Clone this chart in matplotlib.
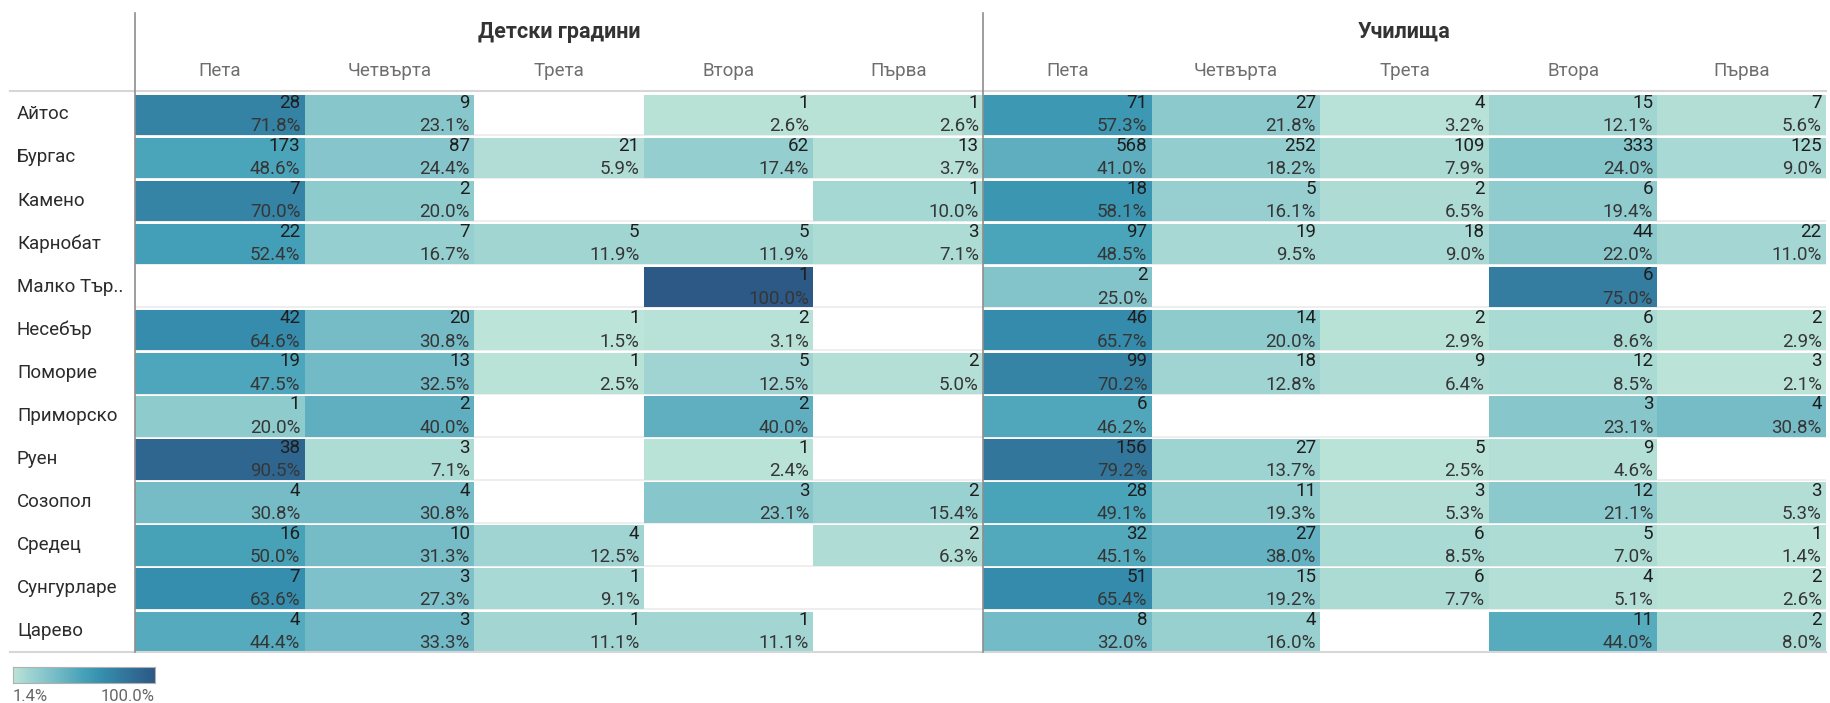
import numpy as np
import matplotlib
matplotlib.use('Agg')
import matplotlib.pyplot as plt
import matplotlib.transforms as mtransforms
from matplotlib.colors import LinearSegmentedColormap, Normalize
from matplotlib.lines import Line2D

plt.rcParams['font.family'] = ['Roboto', 'DejaVu Sans']

# --- data ---
towns = ['Айтос', 'Бургас', 'Камено', 'Карнобат', 'Малко Тър..', 'Несебър', 'Поморие',
         'Приморско', 'Руен', 'Созопол', 'Средец', 'Сунгурларе', 'Царево']
grades = ['Пета', 'Четвърта', 'Трета', 'Втора', 'Първа']
groups = ['Детски градини', 'Училища']

# counts (None = no data), columns follow `grades`
kg_counts = [
    [28, 9, None, 1, 1],
    [173, 87, 21, 62, 13],
    [7, 2, None, None, 1],
    [22, 7, 5, 5, 3],
    [None, None, None, 1, None],
    [42, 20, 1, 2, None],
    [19, 13, 1, 5, 2],
    [1, 2, None, 2, None],
    [38, 3, None, 1, None],
    [4, 4, None, 3, 2],
    [16, 10, 4, None, 2],
    [7, 3, 1, None, None],
    [4, 3, 1, 1, None],
]
kg_pct = [
    [71.8, 23.1, None, 2.6, 2.6],
    [48.6, 24.4, 5.9, 17.4, 3.7],
    [70.0, 20.0, None, None, 10.0],
    [52.4, 16.7, 11.9, 11.9, 7.1],
    [None, None, None, 100.0, None],
    [64.6, 30.8, 1.5, 3.1, None],
    [47.5, 32.5, 2.5, 12.5, 5.0],
    [20.0, 40.0, None, 40.0, None],
    [90.5, 7.1, None, 2.4, None],
    [30.8, 30.8, None, 23.1, 15.4],
    [50.0, 31.3, 12.5, None, 6.3],
    [63.6, 27.3, 9.1, None, None],
    [44.4, 33.3, 11.1, 11.1, None],
]
sch_counts = [
    [71, 27, 4, 15, 7],
    [568, 252, 109, 333, 125],
    [18, 5, 2, 6, None],
    [97, 19, 18, 44, 22],
    [2, None, None, 6, None],
    [46, 14, 2, 6, 2],
    [99, 18, 9, 12, 3],
    [6, None, None, 3, 4],
    [156, 27, 5, 9, None],
    [28, 11, 3, 12, 3],
    [32, 27, 6, 5, 1],
    [51, 15, 6, 4, 2],
    [8, 4, None, 11, 2],
]
sch_pct = [
    [57.3, 21.8, 3.2, 12.1, 5.6],
    [41.0, 18.2, 7.9, 24.0, 9.0],
    [58.1, 16.1, 6.5, 19.4, None],
    [48.5, 9.5, 9.0, 22.0, 11.0],
    [25.0, None, None, 75.0, None],
    [65.7, 20.0, 2.9, 8.6, 2.9],
    [70.2, 12.8, 6.4, 8.5, 2.1],
    [46.2, None, None, 23.1, 30.8],
    [79.2, 13.7, 2.5, 4.6, None],
    [49.1, 19.3, 5.3, 21.1, 5.3],
    [45.1, 38.0, 8.5, 7.0, 1.4],
    [65.4, 19.2, 7.7, 5.1, 2.6],
    [32.0, 16.0, None, 44.0, 8.0],
]

# Tableau "Blue-Teal"
blue_teal = ['#bce4d8', '#aedcd5', '#a1d5d2', '#95cecf', '#89c8cc', '#7ec1ca', '#72bac6',
             '#66b2c2', '#59acbe', '#4ba5ba', '#419eb6', '#3b96b2', '#358ead', '#3586a7',
             '#347ea1', '#32779b', '#316f96', '#2f6790', '#2d608a', '#2c5985']
cmap = LinearSegmentedColormap.from_list('blue_teal', blue_teal)
norm = Normalize(vmin=1.4, vmax=100.0)

W, H = 1830, 703
fig = plt.figure(figsize=(W / 100, H / 100), dpi=100)

top_px, bot_px = 92, 652
panels = [(135, 983), (983, 1826)]
n_rows = len(towns)

axes = []
for (x0, x1), name, counts, pcts in zip(panels, groups, [kg_counts, sch_counts], [kg_pct, sch_pct]):
    ax = fig.add_axes([x0 / W, 1 - bot_px / H, (x1 - x0) / W, (bot_px - top_px) / H])
    ax.set_xlim(0, len(grades))
    ax.set_ylim(n_rows, 0)
    ax.axis('off')
    # faint row dividers
    for r in range(1, n_rows):
        ax.axhline(r, color='#ebebeb', lw=1.2, zorder=0)
    for r in range(n_rows):
        for c in range(len(grades)):
            v = pcts[r][c]
            if v is None:
                continue
            ax.bar(c, 0.94, bottom=r + 0.06, width=1.0, align='edge',
                   color=cmap(norm(v)), linewidth=0, zorder=1)
            ax.text(c + 0.975, r + 0.37, str(counts[r][c]), ha='right', va='baseline',
                    fontsize=13.5, color='#1e1e1e', zorder=2)
            ax.text(c + 0.975, r + 0.91, f'{v:.1f}%', ha='right', va='baseline',
                    fontsize=13.5, color='#363636', zorder=2)
    for c, g in enumerate(grades):
        ax.text(c + 0.5, -0.36, g, ha='center', va='baseline', fontsize=13.5, color='#6e6e6e')
    ax.text(len(grades) / 2, -1.26, name, ha='center', va='baseline', fontsize=15.5,
            fontweight='bold', color='#333333')
    axes.append(ax)

# row labels
trans = mtransforms.blended_transform_factory(fig.transFigure, axes[0].transData)
for r, t in enumerate(towns):
    axes[0].text(17 / W, r + 0.52, t, transform=trans, ha='left', va='center',
                 fontsize=13.5, color='#2b2b2b')

# header / frame lines
fig.add_artist(Line2D([10 / W, 1826 / W], [1 - 91 / H] * 2, color='#d6d6d6', lw=1.5))
fig.add_artist(Line2D([10 / W, 1826 / W], [1 - 652 / H] * 2, color='#d6d6d6', lw=1.5))
for xv in (135, 983):
    fig.add_artist(Line2D([xv / W] * 2, [1 - 13 / H, 1 - 652 / H], color='#8e8e8e', lw=1.2))

# colour legend
cax = fig.add_axes([13 / W, 1 - 683 / H, 142 / W, 16 / H])
grad = np.linspace(norm.vmin, norm.vmax, 256)[None, :]
cax.imshow(grad, aspect='auto', cmap=cmap, norm=norm)
cax.set_xticks([])
cax.set_yticks([])
for s in cax.spines.values():
    s.set_color('#b0b0b0')
fig.text(13 / W, 1 - 701 / H, '1.4%', ha='left', va='baseline', fontsize=12, color='#666666')
fig.text(155 / W, 1 - 701 / H, '100.0%', ha='right', va='baseline', fontsize=12, color='#666666')

fig.savefig('out.png', dpi=100)
